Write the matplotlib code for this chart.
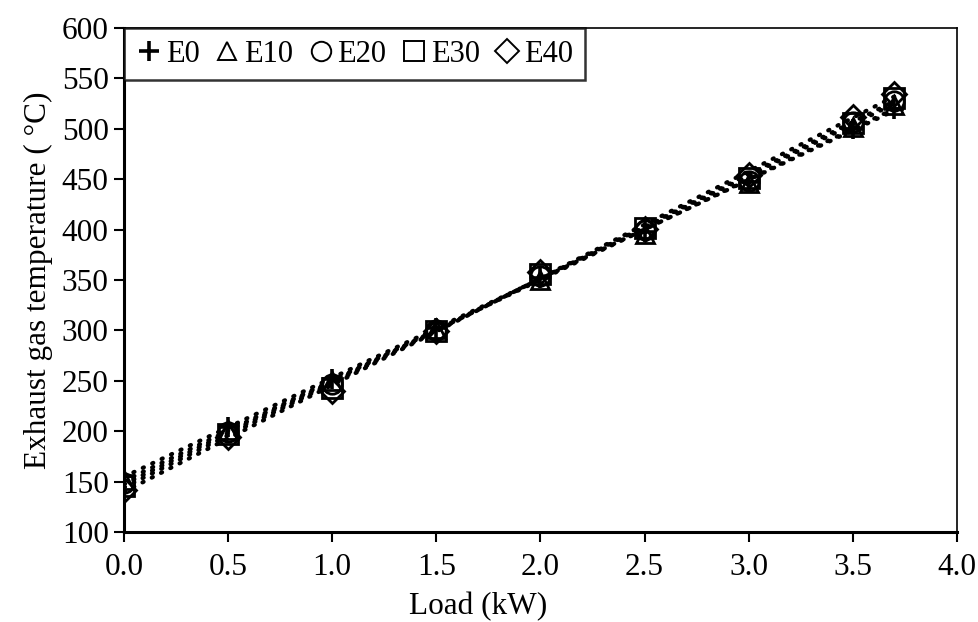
import numpy as np
import matplotlib
matplotlib.use("Agg")
import matplotlib.pyplot as plt

plt.rcParams['font.family'] = ['Liberation Serif', 'DejaVu Serif']

# Engine load (kW)
load = [0.0, 0.5, 1.0, 1.5, 2.0, 2.5, 3.0, 3.5, 3.7]

# Exhaust gas temperature (°C) for each ethanol blend
e0 = [156, 204, 252, 302, 352, 398, 447, 500, 520]
e10 = [152, 201, 250, 301, 350, 396, 446, 502, 524]
e20 = [149, 199, 247, 300, 354, 400, 448, 507, 528]
e30 = [146, 197, 243, 299, 356, 402, 451, 506, 531]
e40 = [142, 194, 240, 299, 358, 401, 454, 512, 535]

series_names = ["E0", "E10", "E20", "E30", "E40"]
series_values = [e0, e10, e20, e30, e40]
markers = ["+", "^", "o", "s", "D"]
marker_sizes = [15, 13, 14, 14, 12]

fig = plt.figure(figsize=(9.79, 6.22), dpi=100)
ax = fig.add_axes([0.1266, 0.1447, 0.8509, 0.8103])

x = np.array(load)
for name, vals, m, ms in zip(series_names, series_values, markers, marker_sizes):
    y = np.array(vals)
    # linear trendline for the series
    k, b = np.polyfit(x, y, 1)
    xt = np.linspace(x.min(), x.max(), 2)
    ax.plot(xt, k * xt + b, color="black", linestyle=(0, (0.3, 2.2)),
            linewidth=3.0, dash_capstyle="round", zorder=2)
    if m == "+":
        ax.plot(x, y, linestyle="none", marker=m, markersize=ms,
                markeredgewidth=2.6, color="black", zorder=3, label=name)
    else:
        ax.plot(x, y, linestyle="none", marker=m, markersize=ms,
                markerfacecolor="none", markeredgecolor="black",
                markeredgewidth=2.0, zorder=3, label=name)

ax.set_xlim(0, 4.0)
ax.set_ylim(100, 600)
ax.set_xticks(np.arange(0, 4.01, 0.5))
ax.set_yticks(np.arange(100, 601, 50))
ax.set_xticklabels([f"{v:.1f}" for v in np.arange(0, 4.01, 0.5)])

ax.tick_params(axis="both", direction="out", length=7, width=1.5,
               labelsize=22.5, colors="black")
ax.tick_params(axis="x", pad=8)
ax.tick_params(axis="y", pad=4)

for side in ["left", "bottom"]:
    ax.spines[side].set_linewidth(2.2)
for side in ["top", "right"]:
    ax.spines[side].set_linewidth(1.2)

ax.set_xlabel("Load (kW)", fontsize=22.5)
ax.xaxis.set_label_coords(0.425, -0.148)
ax.xaxis.label.set_va("center")
ax.set_ylabel("Exhaust gas temperature ( °C)", fontsize=22.5, labelpad=6)

leg = ax.legend(loc="upper left", ncol=5, fontsize=22, frameon=True,
                fancybox=False, edgecolor="black", borderaxespad=0.0,
                handlelength=0.9, handletextpad=0.1, columnspacing=0.45,
                borderpad=0.38, markerscale=1.0)
leg.get_frame().set_linewidth(1.8)
for h in leg.legend_handles:
    if h.get_marker() != "+":
        h.set_markeredgewidth(1.4)

fig.savefig("out.png", dpi=100)
